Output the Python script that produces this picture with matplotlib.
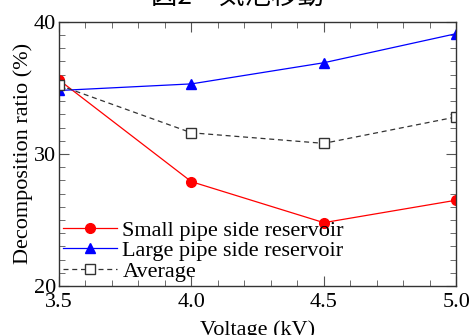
import matplotlib.pyplot as plt
from matplotlib.ticker import MultipleLocator
import numpy as np

voltage = [3.5, 4.0, 4.5, 5.0]
small_pipe = [35.6, 27.9, 24.8, 26.5]
large_pipe = [34.8, 35.3, 36.9, 39.1]
average = [35.2, 31.6, 30.8, 32.8]

plt.rcParams['font.family'] = 'serif'
plt.rcParams['font.serif'] = ['Liberation Serif']
plt.rcParams['font.size'] = 16

fig = plt.figure(figsize=(4.74, 3.35), dpi=100)
ax = fig.add_axes([0.1245, 0.146, 0.838, 0.789])

ax.plot(voltage, small_pipe, '-o', color='red', lw=0.9, ms=7, label='Small pipe side reservoir')
ax.plot(voltage, large_pipe, '-^', color='blue', lw=0.9, ms=7, label='Large pipe side reservoir')
ax.plot(voltage, average, '--s', color='#333333', lw=0.9, ms=7, mfc='white', mec='#333333',
        dashes=(4, 3), label='Average')

ax.set_xlim(3.5, 5.0)
ax.set_ylim(20, 40)
ax.xaxis.set_major_locator(MultipleLocator(0.5))
ax.xaxis.set_minor_locator(MultipleLocator(0.1))
ax.yaxis.set_major_locator(MultipleLocator(10))
ax.yaxis.set_minor_locator(MultipleLocator(1))
ax.tick_params(which='both', direction='in', top=True, right=True, color='#555555')
ax.tick_params(which='major', length=7)
ax.tick_params(which='minor', length=4)
ax.tick_params(axis='x', which='major', pad=5)
ax.tick_params(axis='y', which='major', pad=2)
for s in ax.spines.values():
    s.set_color('#333333')
    s.set_linewidth(1.0)

ax.set_xlabel('Voltage (kV)', labelpad=6)
ax.set_ylabel('Decomposition ratio (%)', labelpad=1)

ax.legend(loc='lower left', frameon=False, labelspacing=0.0, handlelength=2.4,
          handletextpad=0.25, borderaxespad=0.1, borderpad=0.1, fontsize=16)

# cut-off caption above the chart
fig.text(0.5, 1.012, '図2　気泡移動', ha='center', va='center', fontsize=19,
         family=['Noto Sans CJK JP', 'DejaVu Sans'])

fig.savefig('out.png', dpi=100)
